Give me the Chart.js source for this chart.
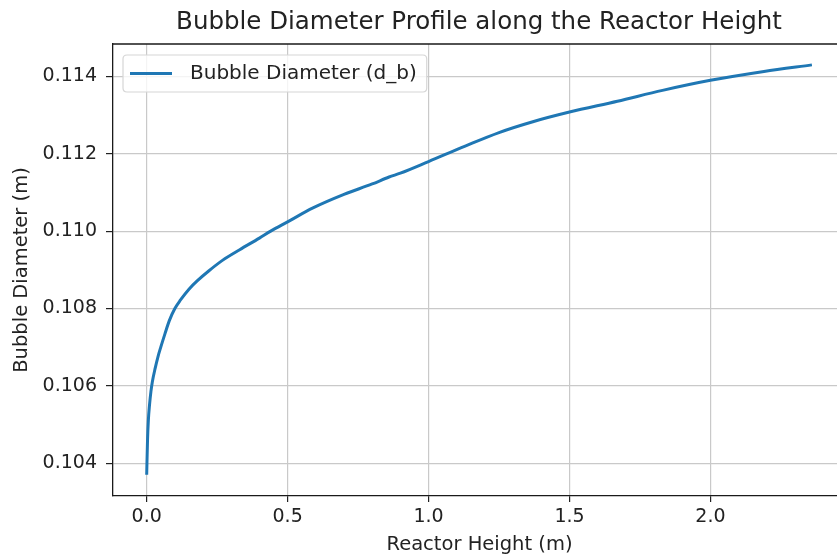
<!DOCTYPE html>
<html>
<head>
<meta charset="utf-8">
<script src="https://cdn.jsdelivr.net/npm/chart.js@4.4.1/dist/chart.umd.min.js"></script>
<style>
  html, body { margin: 0; padding: 0; background: #fff; overflow: hidden; }
  #wrap { width: 837px; height: 557px; overflow: hidden; position: relative; }
  canvas { display: block; }
</style>
</head>
<body>
<div id="wrap"><canvas id="c" width="958" height="557"></canvas></div>
<script>
// ---- data ----
const reactorHeight = [0, 0.003, 0.006, 0.01, 0.015, 0.02, 0.03, 0.04, 0.05, 0.065, 0.08, 0.1, 0.12, 0.15, 0.18, 0.22, 0.27, 0.33, 0.4, 0.44, 0.5, 0.59, 0.7, 0.8, 0.86, 0.9, 1.0, 1.13, 1.25, 1.37, 1.5, 1.67, 1.83, 2.0, 2.19, 2.36];
const bubbleDiameter = [0.10370, 0.10460, 0.10512, 0.10550, 0.10585, 0.10610, 0.10645, 0.10675, 0.10700, 0.10735, 0.10768, 0.10800, 0.10822, 0.10850, 0.10872, 0.10897, 0.10925, 0.10952, 0.10982, 0.11000, 0.11024, 0.11060, 0.11095, 0.11122, 0.11140, 0.11150, 0.11180, 0.11220, 0.11255, 0.11283, 0.11308, 0.11336, 0.11364, 0.11390, 0.11413, 0.11430];
const xTickValues = [0.0, 0.5, 1.0, 1.5, 2.0];
const yTickValues = [0.104, 0.106, 0.108, 0.110, 0.112, 0.114];
const seriesLabel = 'Bubble Diameter (d_b)';
const chartTitle = 'Bubble Diameter Profile along the Reactor Height';
const xAxisTitle = 'Reactor Height (m)';
const yAxisTitle = 'Bubble Diameter (m)';

const FONT = "'DejaVu Sans', sans-serif";
const LINE_COLOR = '#1f77b4';

const points = reactorHeight.map((h, i) => ({ x: h, y: bubbleDiameter[i] }));

const framePlugin = {
  id: 'frame',
  afterDatasetsDraw(chart) {
    const { ctx, chartArea: a } = chart;
    ctx.save();
    ctx.strokeStyle = '#1a1a1a';
    ctx.lineWidth = 1.3;
    ctx.beginPath();
    ctx.moveTo(a.left, a.top);
    ctx.lineTo(a.right, a.top);
    ctx.lineTo(a.right, a.bottom);
    ctx.stroke();
    ctx.restore();
  }
};

const boxLegendPlugin = {
  id: 'boxLegend',
  afterDraw(chart) {
    const { ctx, chartArea: a } = chart;
    const ds = chart.data.datasets[0];
    ctx.save();
    ctx.font = `20px ${FONT}`;
    const tw = ctx.measureText(ds.label).width;
    const x0 = a.left + 10, y0 = a.top + 11;
    const h = 37;
    const w = 7 + 42 + 18 + tw + 10;
    const r = 4;
    ctx.beginPath();
    ctx.moveTo(x0 + r, y0);
    ctx.lineTo(x0 + w - r, y0);
    ctx.quadraticCurveTo(x0 + w, y0, x0 + w, y0 + r);
    ctx.lineTo(x0 + w, y0 + h - r);
    ctx.quadraticCurveTo(x0 + w, y0 + h, x0 + w - r, y0 + h);
    ctx.lineTo(x0 + r, y0 + h);
    ctx.quadraticCurveTo(x0, y0 + h, x0, y0 + h - r);
    ctx.lineTo(x0, y0 + r);
    ctx.quadraticCurveTo(x0, y0, x0 + r, y0);
    ctx.closePath();
    ctx.fillStyle = 'rgba(255,255,255,0.8)';
    ctx.fill();
    ctx.strokeStyle = '#d6d6d6';
    ctx.lineWidth = 1.2;
    ctx.stroke();
    const ly = y0 + h / 2;
    ctx.strokeStyle = ds.borderColor;
    ctx.lineWidth = 2.8;
    ctx.beginPath();
    ctx.moveTo(x0 + 7, ly);
    ctx.lineTo(x0 + 49, ly);
    ctx.stroke();
    ctx.fillStyle = '#222';
    ctx.textBaseline = 'middle';
    ctx.textAlign = 'left';
    ctx.fillText(ds.label, x0 + 67, ly);
    ctx.restore();
  }
};

new Chart(document.getElementById('c'), {
  type: 'scatter',
  data: {
    datasets: [{
      label: seriesLabel,
      data: points,
      showLine: true,
      borderColor: LINE_COLOR,
      backgroundColor: LINE_COLOR,
      borderWidth: 3,
      pointRadius: 0,
      pointHoverRadius: 0,
      cubicInterpolationMode: 'monotone',
      fill: false
    }]
  },
  options: {
    responsive: false,
    animation: false,
    devicePixelRatio: 1,
    layout: { padding: 0 },
    plugins: {
      legend: { display: false },
      tooltip: { enabled: false },
      title: {
        display: true,
        text: chartTitle,
        color: '#222',
        font: { family: FONT, size: 24.5, weight: 'normal' },
        padding: { top: 8, bottom: 6.6 }
      }
    },
    scales: {
      x: {
        type: 'linear',
        min: -0.1195,
        max: 2.481,
        afterBuildTicks(scale) { scale.ticks = xTickValues.map(v => ({ value: v })); },
        afterFit(scale) { scale.height = 61; },
        ticks: {
          color: '#222',
          font: { family: FONT, size: 19 },
          padding: 4,
          maxRotation: 0,
          callback: v => Number(v).toFixed(1)
        },
        grid: { color: '#c9c9c9', lineWidth: 1.2, tickColor: '#222', tickLength: 6, tickWidth: 1.2 },
        border: { display: true, color: '#1a1a1a', width: 1.3 },
        title: {
          display: true,
          text: xAxisTitle,
          color: '#222',
          font: { family: FONT, size: 19.5 },
          padding: { top: 0, bottom: 0 }
        }
      },
      y: {
        type: 'linear',
        min: 0.10315,
        max: 0.11484,
        afterBuildTicks(scale) { scale.ticks = yTickValues.map(v => ({ value: v })); },
        afterFit(scale) { scale.width = 113; },
        ticks: {
          color: '#222',
          font: { family: FONT, size: 19 },
          padding: 9,
          callback: v => Number(v).toFixed(3)
        },
        grid: { color: '#c9c9c9', lineWidth: 1.2, tickColor: '#222', tickLength: 7, tickWidth: 1.2 },
        border: { display: true, color: '#1a1a1a', width: 1.3 },
        title: {
          display: true,
          text: yAxisTitle,
          color: '#222',
          font: { family: FONT, size: 19.5 },
          padding: { top: 10, bottom: 0 }
        }
      },
      yRightSpace: {
        type: 'linear',
        position: 'right',
        display: true,
        afterFit(scale) { scale.width = 112; },
        ticks: { display: false },
        grid: { display: false, drawTicks: false },
        border: { display: false },
        title: { display: false }
      }
    }
  },
  plugins: [framePlugin, boxLegendPlugin]
});
</script>
</body>
</html>
